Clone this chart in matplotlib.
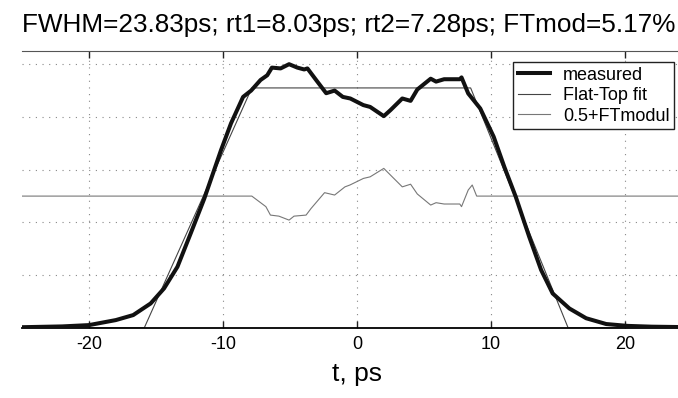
import matplotlib
matplotlib.use("Agg")
import matplotlib.pyplot as plt

plt.rcParams['font.family'] = ['Liberation Sans', 'DejaVu Sans']
plt.rcParams['axes.unicode_minus'] = False

# measured pulse (normalised)
t_meas = [-25, -22, -20, -18, -16.7, -15.4, -14.4, -13.4, -12.4, -11.4,
          -10.15, -9.4, -8.5, -7.9, -7.2, -6.7, -6.35, -5.7, -5.07, -4.45,
          -3.94, -3.7, -3.05, -2.3, -1.67, -1.06, -0.5, 0.47, 0.98, 2.0,
          2.5, 3.38, 4.0, 4.5, 5.5, 5.9, 6.5, 7.67, 7.8, 8.3,
          9.2, 10.2, 11.0, 11.85, 12.85, 13.74, 14.6, 15.85, 17.1, 18.6,
          20.2, 22, 25]
v_meas = [0.003, 0.006, 0.011, 0.03, 0.049, 0.093, 0.15, 0.232, 0.36, 0.49,
          0.674, 0.776, 0.876, 0.90, 0.94, 0.958, 0.987, 0.984, 1.0, 0.987,
          0.98, 0.984, 0.94, 0.89, 0.90, 0.876, 0.87, 0.845, 0.838, 0.803,
          0.826, 0.87, 0.861, 0.904, 0.945, 0.934, 0.943, 0.943, 0.95, 0.889,
          0.832, 0.725, 0.61, 0.497, 0.346, 0.22, 0.131, 0.074, 0.037, 0.015,
          0.008, 0.005, 0.003]

# flat-top fit corners
t_fit = [-25, -15.88, -7.85, 8.48, 15.76, 25]
v_fit = [0, 0, 0.91, 0.91, 0, 0]

# 0.5 + flat-top modulation
t_mod = [-25, -7.85, -6.8, -6.46, -5.83, -5.07, -4.7, -3.8, -3.43, -2.42,
         -1.67, -0.9, -0.53, 0.48, 0.98, 2.0, 2.63, 3.38, 4.0, 4.5,
         5.5, 5.9, 6.5, 7.67, 7.8, 8.3, 8.6, 8.93, 25]
v_mod = [0.5, 0.5, 0.46, 0.428, 0.424, 0.409, 0.424, 0.428, 0.453, 0.513,
         0.504, 0.535, 0.542, 0.567, 0.573, 0.605, 0.573, 0.535, 0.545, 0.508,
         0.466, 0.475, 0.47, 0.47, 0.46, 0.523, 0.542, 0.5, 0.5]

x_ticks = [-20, -10, 0, 10, 20]
y_ticks = [0.2, 0.4, 0.6, 0.8, 1.0]
title = "FWHM=23.83ps; rt1=8.03ps; rt2=7.28ps; FTmod=5.17%"

fig = plt.figure(figsize=(6.78, 3.98), dpi=100)
ax = fig.add_axes([22 / 678, 70 / 398, 670 / 678, 277 / 398])

ax.plot(t_fit, v_fit, color='#444444', lw=0.8, label='Flat-Top fit', zorder=2)
ax.plot(t_mod, v_mod, color='#777777', lw=0.8, label='0.5+FTmodul', zorder=2)
ax.plot(t_meas, v_meas, color='#111111', lw=2.9, label='measured', zorder=3)

ax.set_xlim(-25, 25)
ax.set_ylim(0, 1.05)
ax.set_xticks(x_ticks)
ax.set_yticks(y_ticks)
ax.set_yticklabels([])
ax.tick_params(axis='x', direction='in', top=True, length=5, width=1,
               labelsize=13, pad=6, color='#222222')
ax.tick_params(axis='y', length=0)
ax.grid(True, color='#888888', linestyle=(0, (1, 5)), lw=0.8)
ax.spines['left'].set_visible(False)
ax.spines['bottom'].set_linewidth(1.3)
ax.spines['top'].set_color('#555555')

ax.set_xlabel('t, ps', fontsize=19, labelpad=6)
ax.set_title(title, fontsize=18.8, pad=14, loc='left')

h, l = ax.get_legend_handles_labels()
order = [2, 0, 1]
leg = ax.legend([h[i] for i in order], [l[i] for i in order],
                loc='upper left', bbox_to_anchor=(0.733, 0.96), borderaxespad=0,
                fontsize=13, handlelength=1.8, handletextpad=0.7,
                labelspacing=0.2, borderpad=0.25, fancybox=False,
                framealpha=1, edgecolor='#222222')
leg.get_frame().set_linewidth(1.0)

fig.savefig('out.png', dpi=100)
